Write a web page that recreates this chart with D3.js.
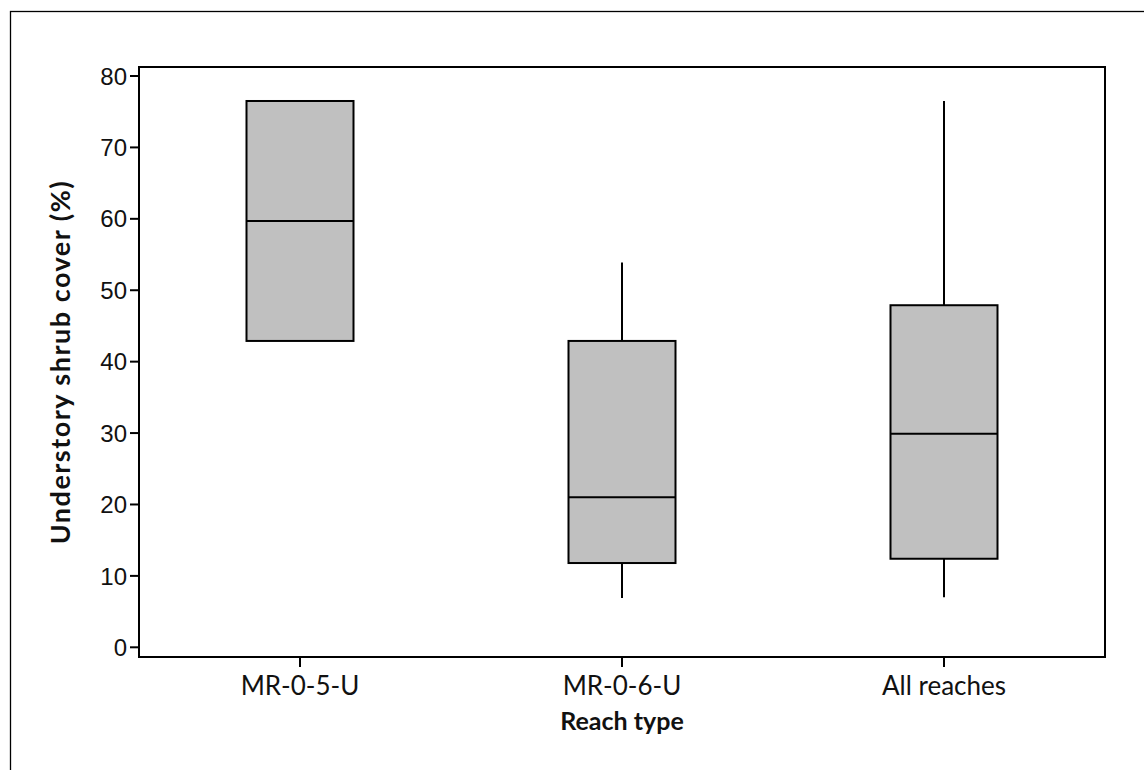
<!DOCTYPE html>
<html>
<head>
<meta charset="utf-8">
<script src="https://cdn.jsdelivr.net/npm/d3@7"></script>
<style>
  body { margin: 0; background: #fff; }
</style>
</head>
<body>
<script>
// box plot summary values
const categories = ["MR-0-5-U", "MR-0-6-U", "All reaches"];
const mins = [42.9, 6.9, 7.0];
const q1s = [42.9, 11.8, 12.4];
const medians = [59.7, 21.0, 29.9];
const q3s = [76.5, 42.9, 47.9];
const maxs = [76.5, 53.9, 76.5];
const yTicks = [0, 10, 20, 30, 40, 50, 60, 70, 80];

const boxes = categories.map((c, i) => ({
  name: c, min: mins[i], q1: q1s[i], median: medians[i], q3: q3s[i], max: maxs[i]
}));

const width = 1144;
const height = 770;

const svg = d3.select("body").append("svg")
  .attr("width", width)
  .attr("height", height);

// outer frame (only left/top visible)
svg.append("rect")
  .attr("x", 10.5)
  .attr("y", 11.5)
  .attr("width", 1300)
  .attr("height", 1000)
  .attr("fill", "none")
  .attr("stroke", "#000")
  .attr("stroke-width", 1.3);

const plot = { left: 139, right: 1105, top: 67, bottom: 657 };

const x = d3.scaleBand()
  .domain(categories)
  .range([plot.left, plot.right])
  .padding(0);

const y = d3.scaleLinear()
  .domain([0, 80])
  .range([647.3, 76]);

const boxW = 107;

// y axis ticks + labels
const yAxis = svg.append("g");
yAxis.selectAll("line")
  .data(yTicks)
  .join("line")
  .attr("x1", plot.left - 9)
  .attr("x2", plot.left)
  .attr("y1", d => y(d))
  .attr("y2", d => y(d))
  .attr("stroke", "#000")
  .attr("stroke-width", 2);

yAxis.selectAll("text")
  .data(yTicks)
  .join("text")
  .attr("x", plot.left - 12)
  .attr("y", d => y(d))
  .attr("dy", "0.36em")
  .attr("text-anchor", "end")
  .attr("font-family", "'Liberation Sans', Arial, sans-serif")
  .attr("font-size", 24)
  .attr("fill", "#111")
  .text(d => d);

// x axis ticks + labels
const xAxis = svg.append("g");
xAxis.selectAll("line")
  .data(categories)
  .join("line")
  .attr("x1", d => x(d) + x.bandwidth() / 2)
  .attr("x2", d => x(d) + x.bandwidth() / 2)
  .attr("y1", plot.bottom)
  .attr("y2", plot.bottom + 10)
  .attr("stroke", "#000")
  .attr("stroke-width", 2);

xAxis.selectAll("text")
  .data(categories)
  .join("text")
  .attr("x", d => x(d) + x.bandwidth() / 2)
  .attr("y", 695)
  .attr("text-anchor", "middle")
  .attr("font-family", "Lato, 'Open Sans', sans-serif")
  .attr("font-size", 26)
  .attr("fill", "#111")
  .text(d => d);

// whiskers
svg.append("g")
  .selectAll("line")
  .data(boxes)
  .join("line")
  .attr("x1", d => x(d.name) + x.bandwidth() / 2)
  .attr("x2", d => x(d.name) + x.bandwidth() / 2)
  .attr("y1", d => y(d.max))
  .attr("y2", d => y(d.min))
  .attr("stroke", "#000")
  .attr("stroke-width", 2);

// boxes
svg.append("g")
  .selectAll("rect")
  .data(boxes)
  .join("rect")
  .attr("x", d => x(d.name) + x.bandwidth() / 2 - boxW / 2)
  .attr("y", d => y(d.q3))
  .attr("width", boxW)
  .attr("height", d => y(d.q1) - y(d.q3))
  .attr("fill", "#c0c0c0")
  .attr("stroke", "#000")
  .attr("stroke-width", 2);

// medians
svg.append("g")
  .selectAll("line")
  .data(boxes)
  .join("line")
  .attr("x1", d => x(d.name) + x.bandwidth() / 2 - boxW / 2)
  .attr("x2", d => x(d.name) + x.bandwidth() / 2 + boxW / 2)
  .attr("y1", d => y(d.median))
  .attr("y2", d => y(d.median))
  .attr("stroke", "#000")
  .attr("stroke-width", 2);

// plot frame
svg.append("rect")
  .attr("x", plot.left)
  .attr("y", plot.top)
  .attr("width", plot.right - plot.left)
  .attr("height", plot.bottom - plot.top)
  .attr("fill", "none")
  .attr("stroke", "#000")
  .attr("stroke-width", 2);

// axis titles
svg.append("text")
  .attr("x", (plot.left + plot.right) / 2)
  .attr("y", 730)
  .attr("text-anchor", "middle")
  .attr("font-family", "Lato, 'Open Sans', sans-serif")
  .attr("font-weight", "bold")
  .attr("font-size", 25)
  .attr("fill", "#111")
  .text("Reach type");

svg.append("text")
  .attr("transform", `translate(70, ${(plot.top + plot.bottom) / 2}) rotate(-90)`)
  .attr("text-anchor", "middle")
  .attr("font-family", "Lato, 'Open Sans', sans-serif")
  .attr("font-weight", "bold")
  .attr("font-size", 27)
  .attr("letter-spacing", 1.5)
  .attr("fill", "#111")
  .text("Understory shrub cover (%)");
</script>
</body>
</html>
